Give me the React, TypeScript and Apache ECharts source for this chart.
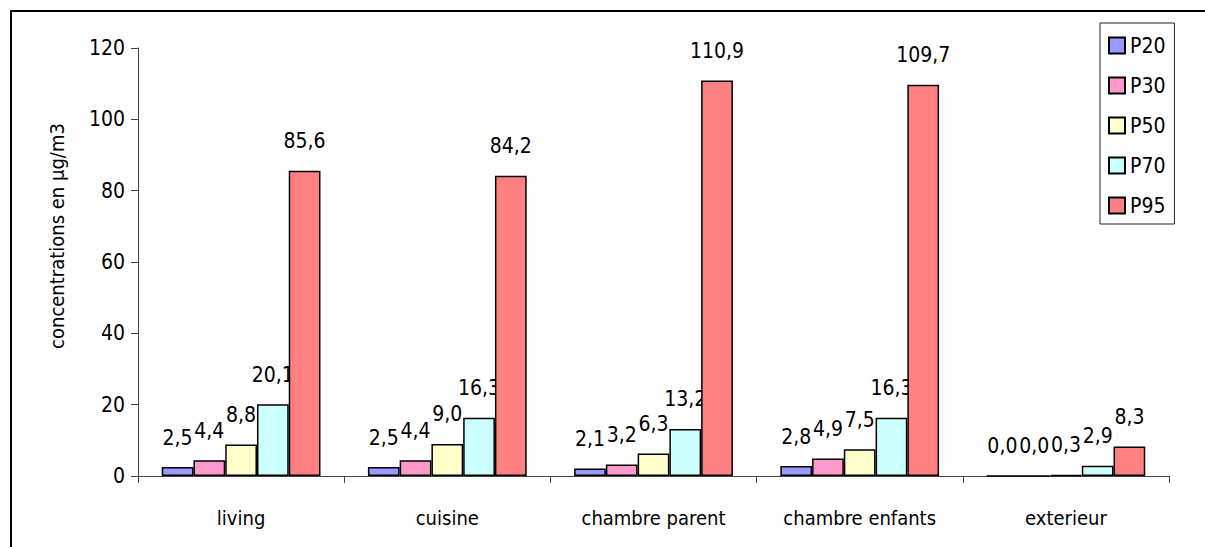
import React, { useEffect, useRef } from "react";
import * as echarts from "echarts";

// Rooms where concentrations were measured
const categories = ["living", "cuisine", "chambre parent", "chambre enfants", "exterieur"];

// Percentiles of concentration (µg/m3) per room
const p20 = [2.5, 2.5, 2.1, 2.8, 0.0];
const p30 = [4.4, 4.4, 3.2, 4.9, 0.0];
const p50 = [8.8, 9.0, 6.3, 7.5, 0.3];
const p70 = [20.1, 16.3, 13.2, 16.3, 2.9];
const p95 = [85.6, 84.2, 110.9, 109.7, 8.3];

const seriesNames = ["P20", "P30", "P50", "P70", "P95"];
const seriesValues = [p20, p30, p50, p70, p95];
const seriesColors = ["#9999FF", "#FF99CC", "#FFFFCC", "#CCFFFF", "#FF8080"];

const yTicks = { min: 0, max: 120, interval: 20 };
const axisTitle = "concentrations en µg/m3";

const FONT = "'DejaVu Sans Condensed', 'DejaVu Sans', sans-serif";

const fmt = (v: number) => v.toFixed(1).replace(".", ",");

export default function App() {
  const ref = useRef<HTMLDivElement>(null);

  useEffect(() => {
    if (!ref.current) return;
    const chart = echarts.init(ref.current, undefined, { renderer: "svg" });

    // later series sit above earlier ones, so a tall bar can cover its neighbour's label
    const series = seriesNames.map((name, i) => ({
      name,
      type: "bar" as const,
      data: seriesValues[i],
      z: 2 + i,
      barGap: "0%",
      barCategoryGap: "23%",
      itemStyle: {
        color: seriesColors[i],
        borderColor: "#000",
        borderWidth: 1.5,
      },
      label: {
        show: true,
        position: "top" as const,
        distance: 19,
        color: "#000",
        fontFamily: FONT,
        fontSize: 21,
        lineHeight: 21,
        formatter: (p: any) => fmt(p.value),
      },
    }));

    chart.setOption({
      animation: false,
      backgroundColor: "#fff",
      textStyle: { fontFamily: FONT },
      grid: { left: 138, right: 36, top: 48, bottom: 71, containLabel: false },
      legend: {
        orient: "vertical",
        left: 1100,
        top: 23,
        padding: [12, 9, 8, 8],
        itemGap: 19,
        itemWidth: 16,
        itemHeight: 16,
        icon: "rect",
        borderColor: "#222",
        borderWidth: 1,
        backgroundColor: "#fff",
        selectedMode: false,
        textStyle: { fontFamily: FONT, fontSize: 21, lineHeight: 21, color: "#000" },
        data: seriesNames,
      },
      xAxis: {
        type: "category",
        data: categories,
        axisLine: { show: true, lineStyle: { color: "#444", width: 1 } },
        axisTick: { show: true, length: 7, lineStyle: { color: "#444" } },
        axisLabel: { color: "#000", fontFamily: FONT, fontSize: 20, lineHeight: 21, margin: 31 },
        splitLine: { show: false },
      },
      yAxis: {
        type: "value",
        min: yTicks.min,
        max: yTicks.max,
        interval: yTicks.interval,
        axisLine: { show: true, lineStyle: { color: "#444", width: 1 } },
        axisTick: { show: true, length: 7, lineStyle: { color: "#444" } },
        axisLabel: { color: "#000", fontFamily: FONT, fontSize: 21, margin: 13 },
        splitLine: { show: false },
      },
      graphic: [
        {
          type: "rect",
          shape: { x: 11, y: 11, width: 1400, height: 700 },
          style: { fill: "none", stroke: "#000", lineWidth: 2 },
          silent: true,
          z: 100,
        },
        {
          type: "text",
          x: 57,
          y: 236,
          rotation: Math.PI / 2,
          style: {
            text: axisTitle,
            fill: "#000",
            font: `20px ${FONT}`,
            textAlign: "center",
            textVerticalAlign: "middle",
          },
        },
      ],
      series,
    });

    return () => chart.dispose();
  }, []);

  return (
    <div
      ref={ref}
      style={{ position: "fixed", left: 0, top: 0, width: 1205, height: 547, background: "#fff" }}
    />
  );
}
